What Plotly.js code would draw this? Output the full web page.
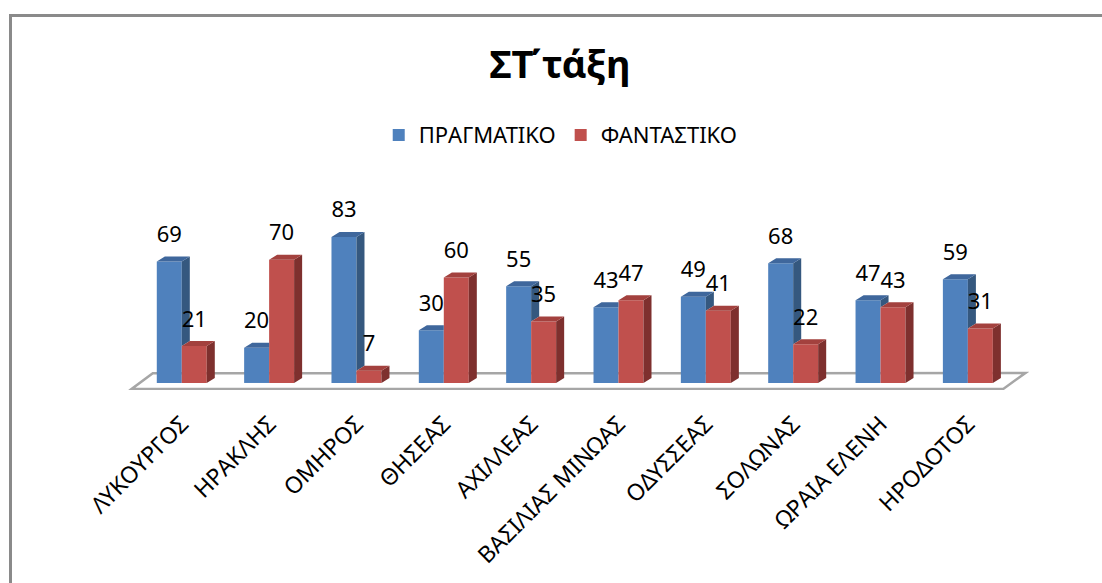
<!DOCTYPE html>
<html>
<head>
<meta charset="utf-8">
<script src="https://cdn.plot.ly/plotly-3.0.1.min.js"></script>
<style>
  html, body { margin: 0; padding: 0; background: #ffffff; }
  #frame { position: absolute; left: 9px; top: 14px; width: 1200px; height: 700px;
           border-left: 3px solid #8a8a8a; border-top: 3px solid #8a8a8a; box-sizing: border-box; }
  #chart { position: absolute; left: 0; top: 0; width: 1102px; height: 583px; }
</style>
</head>
<body>
<div id="frame"></div>
<div id="chart"></div>
<script>
// ---- data ----
const categories = ["ΛΥΚΟΥΡΓΟΣ", "ΗΡΑΚΛΗΣ", "ΟΜΗΡΟΣ", "ΘΗΣΕΑΣ", "ΑΧΙΛΛΕΑΣ",
                    "ΒΑΣΙΛΙΑΣ ΜΙΝΩΑΣ", "ΟΔΥΣΣΕΑΣ", "ΣΟΛΩΝΑΣ", "ΩΡΑΙΑ ΕΛΕΝΗ", "ΗΡΟΔΟΤΟΣ"];
const realValues = [69, 20, 83, 30, 55, 43, 49, 68, 47, 59];     // ΠΡΑΓΜΑΤΙΚΟ
const fantasyValues = [21, 70, 7, 60, 35, 47, 41, 22, 43, 31];   // ΦΑΝΤΑΣΤΙΚΟ
const seriesNames = ["ΠΡΑΓΜΑΤΙΚΟ", "ΦΑΝΤΑΣΤΙΚΟ"];
const chartTitle = "ΣΤ΄τάξη";

// ---- style ----
const W = 0.286;   // bar width (category units)
const DX = 0.092;  // depth offset x (category units)
const DY = 2.84;   // depth offset y (value units)
const LABEL_LIFT = 14.2;
const blue = {front: "#4f81bd", side: "#35587f", top: "#3f679c"};
const red  = {front: "#c0504d", side: "#7e302e", top: "#a3413e"};
const FONT = "Noto Sans, Open Sans, sans-serif";

const xs = categories.map((c, i) => i);

function poly(pointsList) {
  const x = [], y = [];
  pointsList.forEach(pts => {
    pts.forEach(p => { x.push(p[0]); y.push(p[1]); });
    x.push(pts[0][0]); y.push(pts[0][1]);
    x.push(null); y.push(null);
  });
  return {x, y};
}
function faceTrace(pointsList, color) {
  const p = poly(pointsList);
  return {type: "scatter", mode: "lines", x: p.x, y: p.y, fill: "toself",
          fillcolor: color, line: {width: 0, color: color}, hoverinfo: "skip",
          showlegend: false, cliponaxis: false};
}

// blue (left bar: x from i-W to i), red (right bar: x from i to i+W)
const blueSide = [], blueTop = [], redSide = [], redTop = [];
xs.forEach(i => {
  const b = realValues[i], r = fantasyValues[i];
  if (r < b) {
    blueSide.push([[i, r], [i + DX, r + DY], [i + DX, b + DY], [i, b]]);
    blueTop.push([[i - W, b], [i - W + DX, b + DY], [i + DX, b + DY], [i, b]]);
  } else {
    blueTop.push([[i - W, b], [i - W + DX, b + DY], [i, b + DY], [i, b]]);
  }
  redSide.push([[i + W, 0], [i + W + DX, DY], [i + W + DX, r + DY], [i + W, r]]);
  redTop.push([[i, r], [i + DX, r + DY], [i + W + DX, r + DY], [i + W, r]]);
});

const data = [
  {type: "bar", name: seriesNames[0], x: xs, y: realValues, width: W, offset: -W,
   marker: {color: blue.front, line: {width: 0}}, hoverinfo: "skip"},
  {type: "bar", name: seriesNames[1], x: xs, y: fantasyValues, width: W, offset: 0,
   marker: {color: red.front, line: {width: 0}}, hoverinfo: "skip"},
  faceTrace(blueSide, blue.side),
  faceTrace(blueTop, blue.top),
  faceTrace(redSide, red.side),
  faceTrace(redTop, red.top),
  {type: "scatter", mode: "text", x: xs.map(i => i - W / 2),
   y: realValues.map(v => v + LABEL_LIFT), text: realValues.map(String),
   textposition: "middle center", textfont: {family: FONT, size: 22, color: "#000"},
   showlegend: false, hoverinfo: "skip", cliponaxis: false},
  {type: "scatter", mode: "text", x: xs.map(i => i + W / 2),
   y: fantasyValues.map(v => v + LABEL_LIFT), text: fantasyValues.map(String),
   textposition: "middle center", textfont: {family: FONT, size: 22, color: "#000"},
   showlegend: false, hoverinfo: "skip", cliponaxis: false}
];

const layout = {
  width: 1102, height: 583,
  margin: {l: 125, r: 73, t: 207, b: 193, pad: 0},
  paper_bgcolor: "rgba(0,0,0,0)", plot_bgcolor: "rgba(0,0,0,0)",
  font: {family: FONT, color: "#000"},
  barmode: "overlay",
  title: {text: "<b>" + chartTitle + "</b>", font: {family: FONT, size: 38, color: "#000"},
          x: 560 / 1102, xref: "container", xanchor: "center",
          y: 1 - 65 / 583, yref: "container", yanchor: "middle"},
  showlegend: true,
  legend: {orientation: "h", x: 0.482, xanchor: "center", y: 1.393, yanchor: "middle",
           font: {family: FONT, size: 22, color: "#000"}, itemclick: false, bgcolor: "rgba(0,0,0,0)"},
  xaxis: {range: [-0.65, 9.7], tickvals: xs, ticktext: categories, tickangle: -45,
          showgrid: false, zeroline: false, showline: false, ticks: "",
          tickfont: {family: FONT, size: 23, color: "#000"}, ticklabelstandoff: 15,
          fixedrange: true},
  yaxis: {range: [-4, 100], showgrid: false, zeroline: false, showline: false,
          showticklabels: false, ticks: "", fixedrange: true},
  shapes: [{type: "path", xref: "x", yref: "y", layer: "below",
            path: "M -0.576,-3.5 L -0.332,5.5 L 9.657,5.6 L 9.405,-3.4 Z",
            fillcolor: "#ffffff", line: {color: "#a6a6a6", width: 2.5}}],
  hovermode: false
};

Plotly.newPlot("chart", data, layout, {displayModeBar: false, staticPlot: true});
</script>
</body>
</html>
